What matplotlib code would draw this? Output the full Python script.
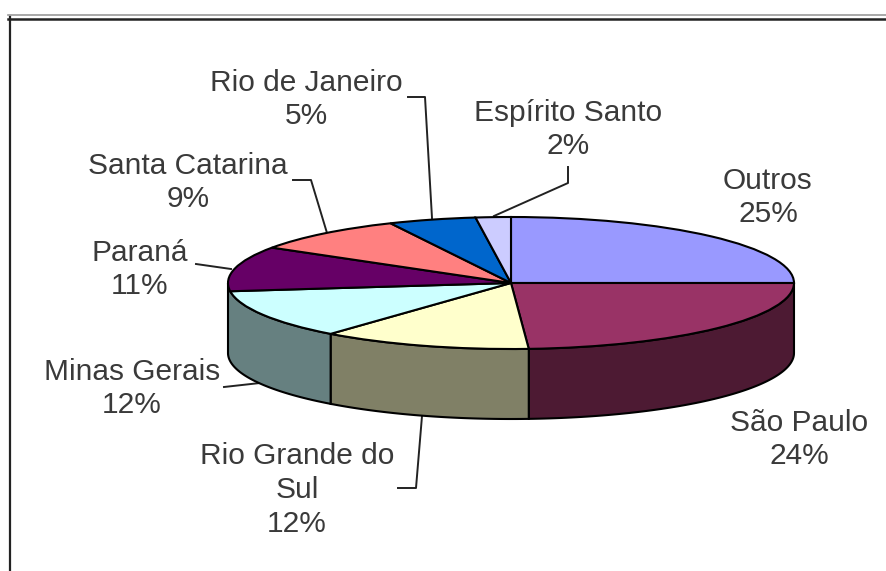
import numpy as np
import matplotlib
matplotlib.use("Agg")
import matplotlib.pyplot as plt
from matplotlib.colors import to_rgb

categories = ["Outros", "São Paulo", "Rio Grande do Sul", "Minas Gerais", "Paraná",
              "Santa Catarina", "Rio de Janeiro", "Espírito Santo"]
values = [25, 24, 12, 12, 11, 9, 5, 2]
colors = ["#9999FF", "#993366", "#FFFFCC", "#CCFFFF", "#660066", "#FF8080", "#0066CC", "#CCCCFF"]
label_texts = ["Outros\n25%", "São Paulo\n24%", "Rio Grande do\nSul\n12%", "Minas Gerais\n12%",
               "Paraná\n11%", "Santa Catarina\n9%", "Rio de Janeiro\n5%", "Espírito Santo\n2%"]
label_xy = [(768, 197.5), (799, 439.5), (297, 490), (132, 388.5), (140, 269.5), (188, 182.5), (306, 99.5), (568, 129.5)]

W, H = 887, 571
CX, CY, RX, RY, DEPTH = 511, 283, 283, 66, 70
plt.rcParams["font.family"] = ["Liberation Sans", "DejaVu Sans"]

fig = plt.figure(figsize=(W / 100, H / 100), dpi=100, facecolor="white")

# pixel-space layer for frame, labels and leader lines
bg = fig.add_axes([0, 0, 1, 1])
bg.set_xlim(0, W)
bg.set_ylim(H, 0)
bg.axis("off")

bg.plot([8, W], [15, 15], color="#999999", lw=1.2)
bg.plot([8, W], [18.5, 18.5], color="#222222", lw=1.8)
bg.plot([10, 10], [17, H], color="#222222", lw=1.6)

leaders = [
    [(408, 97), (425, 97), (432, 218)],
    [(568, 167), (568, 183), (494, 216)],
    [(293, 180), (311, 180), (327, 233)],
    [(196, 264), (231, 269)],
    [(224, 387), (260, 383)],
    [(398, 488), (416, 488), (422, 416)],
]
for seg in leaders:
    xs, ys = zip(*seg)
    bg.plot(xs, ys, color="#222222", lw=1.4)

for txt, (x, y) in zip(label_texts, label_xy):
    bg.text(x, y, txt, ha="center", va="center", fontsize=21.5, color="#3a3a3a", linespacing=1.25)

# pie layer: one data unit = RX px horizontally, RY px vertically
ax = fig.add_axes([0, 0, 1, 1], facecolor="none")
ax.pie(values, colors=colors, startangle=90, counterclock=False, radius=1,
       wedgeprops=dict(edgecolor="black", linewidth=1.5), frame=False)
ax.set_aspect("auto")
ax.set_xlim((0 - CX) / RX, (W - CX) / RX)
ax.set_ylim((CY - H) / RY, CY / RY)
ax.axis("off")

# side wall: a sliver at the left rim is absorbed by the neighbouring wall
d = DEPTH / RY
edges = np.cumsum([0] + values) / sum(values) * 360
for i, col in enumerate(colors):
    a0, a1 = max(edges[i], 90), min(edges[i + 1], 270)
    if a1 - a0 < 10:
        continue
    if 260 < a1 < 270:
        a1 = 270
    t = np.radians(np.linspace(a0, a1, 80))
    x, y = np.sin(t), np.cos(t)
    shade = tuple(c * 0.5 for c in to_rgb(col))
    ax.fill(np.r_[x, x[::-1]], np.r_[y, y[::-1] - d], facecolor=shade,
            edgecolor="black", linewidth=1.5, zorder=0.5)

fig.savefig("out.png", dpi=100, facecolor="white")
